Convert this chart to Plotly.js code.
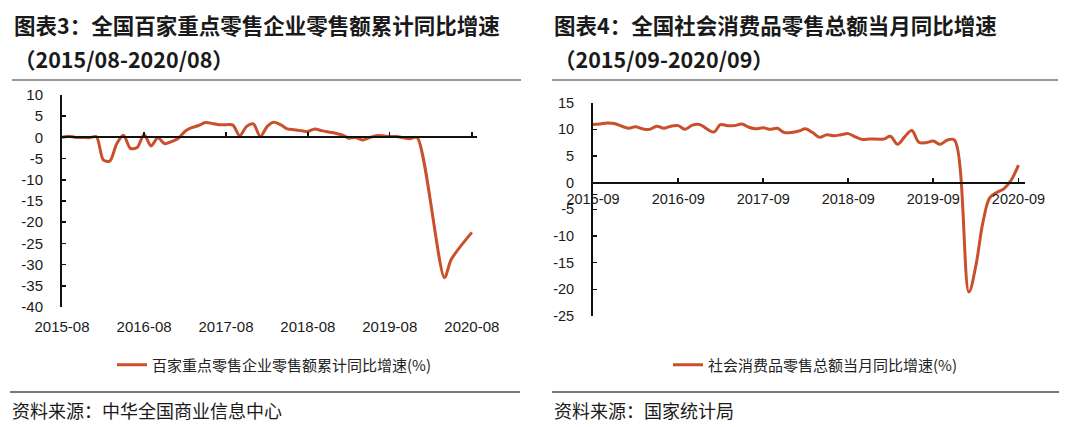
<!DOCTYPE html>
<html>
<head>
<meta charset="utf-8">
<script src="https://cdn.plot.ly/plotly-3.0.1.min.js"></script>
<style>
  html, body { margin: 0; padding: 0; background: #ffffff; }
  #chart { width: 1067px; height: 427px; }
</style>
</head>
<body>
<div id="chart"></div>
<script>
// ---------------- DATA ----------------
const leftTitle1 = '图表3：全国百家重点零售企业零售额累计同比增速';
const leftTitle2 = '（2015/08-2020/08）';
const rightTitle1 = '图表4：全国社会消费品零售总额当月同比增速';
const rightTitle2 = '（2015/09-2020/09）';
const leftSeriesName = '百家重点零售企业零售额累计同比增速(%)';
const rightSeriesName = '社会消费品零售总额当月同比增速(%)';
const leftSource = '资料来源：中华全国商业信息中心';
const rightSource = '资料来源：国家统计局';

// months 2015-08 .. 2020-08
const leftMonths = [
  '2015-08','2015-09','2015-10','2015-11','2015-12',
  '2016-01','2016-02','2016-03','2016-04','2016-05','2016-06','2016-07','2016-08','2016-09','2016-10','2016-11','2016-12',
  '2017-01','2017-02','2017-03','2017-04','2017-05','2017-06','2017-07','2017-08','2017-09','2017-10','2017-11','2017-12',
  '2018-01','2018-02','2018-03','2018-04','2018-05','2018-06','2018-07','2018-08','2018-09','2018-10','2018-11','2018-12',
  '2019-01','2019-02','2019-03','2019-04','2019-05','2019-06','2019-07','2019-08','2019-09','2019-10','2019-11','2019-12',
  '2020-01','2020-02','2020-03','2020-04','2020-05','2020-06','2020-07','2020-08'
];
const leftValues = [
  0.0, 0.3, 0.0, 0.0, -0.1,
  0.2, -5.3, -5.6, -1.5, 0.5, -2.6, -2.4, 0.7, -2.0, -0.1, -1.5, -1.0,
  -0.2, 1.5, 2.3, 2.8, 3.5, 3.3, 3.0, 3.0, 2.9, 0.4, 2.6, 3.2,
  0.2, 2.6, 3.6, 3.0, 2.0, 1.8, 1.6, 1.4, 2.0, 1.6, 1.25, 1.0,
  0.6, -0.2, 0.0, -0.6, -0.1, 0.4, 0.4, 0.2, 0.2, -0.1, -0.3, 0.0,
  null, null, null, -33.1, -28.8, null, null, -22.4
];
const leftTickLabels = ['2015-08','2016-08','2017-08','2018-08','2019-08','2020-08'];
const leftYTicks = [10, 5, 0, -5, -10, -15, -20, -25, -30, -35, -40];

// months 2015-09 .. 2020-09
const rightMonths = [
  '2015-09','2015-10','2015-11','2015-12',
  '2016-01','2016-02','2016-03','2016-04','2016-05','2016-06','2016-07','2016-08','2016-09','2016-10','2016-11','2016-12',
  '2017-01','2017-02','2017-03','2017-04','2017-05','2017-06','2017-07','2017-08','2017-09','2017-10','2017-11','2017-12',
  '2018-01','2018-02','2018-03','2018-04','2018-05','2018-06','2018-07','2018-08','2018-09','2018-10','2018-11','2018-12',
  '2019-01','2019-02','2019-03','2019-04','2019-05','2019-06','2019-07','2019-08','2019-09','2019-10','2019-11','2019-12',
  '2020-01','2020-02','2020-03','2020-04','2020-05','2020-06','2020-07','2020-08','2020-09'
];
const rightValues = [
  10.9, 11.0, 11.2, 11.1,
  null, 10.2, 10.5, 10.1, 10.0, 10.6, 10.2, 10.6, 10.7, 10.0, 10.8, 10.9,
  null, 9.5, 10.9, 10.7, 10.7, 11.0, 10.4, 10.1, 10.3, 10.0, 10.2, 9.4,
  null, 9.7, 10.1, 9.4, 8.5, 9.0, 8.8, 9.0, 9.2, 8.6, 8.1, 8.2,
  null, 8.2, 8.7, 7.2, 8.6, 9.8, 7.6, 7.5, 7.8, 7.2, 8.0, 8.0,
  null, -20.5, -15.8, -7.5, -2.8, -1.8, -1.1, 0.5, 3.3
];
const rightTickLabels = ['2015-09','2016-09','2017-09','2018-09','2019-09','2020-09'];
const rightYTicks = [15, 10, 5, 0, -5, -10, -15, -20, -25];

// ---------------- LAYOUT HELPERS ----------------
const W = 1067, H = 427;
const px = v => v / W;
const py = v => 1 - v / H;

const lineColor = '#C9502B';
const cjk = '"Noto Sans CJK SC", "Noto Sans", sans-serif';
const latin = '"Liberation Sans", Arial, sans-serif';

// plot areas (pixels)
const L = { x0: 62, x1: 477, yTop: 95, yBot: 307, ymin: -40, ymax: 10 };
const R = { x0: 593, x1: 1025, yTop: 102.7, yBot: 316, ymin: -25, ymax: 15 };
const zeroPos = P => py(P.yBot) + (0 - P.ymin) / (P.ymax - P.ymin) * (py(P.yTop) - py(P.yBot));

const traces = [
  {
    x: leftMonths, y: leftValues, type: 'scatter', mode: 'lines',
    name: leftSeriesName, connectgaps: true,
    line: { color: lineColor, width: 3, shape: 'spline', smoothing: 0.8 },
    xaxis: 'x', yaxis: 'y', legend: 'legend', hoverinfo: 'x+y'
  },
  {
    x: rightMonths, y: rightValues, type: 'scatter', mode: 'lines',
    name: rightSeriesName, connectgaps: true,
    line: { color: lineColor, width: 3, shape: 'spline', smoothing: 1 },
    xaxis: 'x2', yaxis: 'y2', legend: 'legend2', hoverinfo: 'x+y'
  }
];

const commonY = {
  showgrid: false, zeroline: false, showline: true, linecolor: '#111', linewidth: 2,
  ticks: 'inside', ticklen: 4, tickwidth: 1.5, tickcolor: '#111',
  tickmode: 'array', ticklabelstandoff: 14, fixedrange: true
};

const layout = {
  width: W, height: H,
  margin: { l: 0, r: 0, t: 0, b: 0 },
  paper_bgcolor: '#ffffff', plot_bgcolor: 'rgba(0,0,0,0)',
  showlegend: true,
  xaxis: {
    type: 'date', domain: [px(L.x0), px(L.x1)],
    range: ['2015-08-01', '2020-08-24'],
    anchor: 'free', position: zeroPos(L),
    showgrid: false, zeroline: false, showline: true, linecolor: '#111', linewidth: 2,
    ticks: 'inside', ticklen: 4, tickwidth: 1.5, tickcolor: '#111',
    tickmode: 'array', tickvals: leftTickLabels, ticktext: leftTickLabels,
    ticklabelstandoff: 176,
    tickfont: { family: latin, size: 15, color: '#1a1a1a' }, fixedrange: true
  },
  yaxis: Object.assign({}, commonY, {
    domain: [py(L.yBot), py(L.yTop)], range: [L.ymin, L.ymax], anchor: 'x',
    tickvals: leftYTicks, ticktext: leftYTicks.map(String),
    tickfont: { family: latin, size: 15, color: '#1a1a1a' }
  }),
  xaxis2: {
    type: 'date', domain: [px(R.x0), px(R.x1)],
    range: ['2015-09-01', '2020-09-29'],
    anchor: 'free', position: zeroPos(R),
    showgrid: false, zeroline: false, showline: true, linecolor: '#111', linewidth: 2,
    ticks: 'inside', ticklen: 4, tickwidth: 1.5, tickcolor: '#111',
    tickmode: 'array', tickvals: rightTickLabels, ticktext: rightTickLabels,
    ticklabelstandoff: 3,
    tickfont: { family: latin, size: 14.5, color: '#1a1a1a' }, fixedrange: true
  },
  yaxis2: Object.assign({}, commonY, {
    domain: [py(R.yBot), py(R.yTop)], range: [R.ymin, R.ymax], anchor: 'x2',
    tickvals: rightYTicks, ticktext: rightYTicks.map(String),
    tickfont: { family: latin, size: 14.5, color: '#1a1a1a' }
  }),
  legend: {
    x: px(112), y: py(365), xanchor: 'left', yanchor: 'middle',
    orientation: 'h', bgcolor: 'rgba(0,0,0,0)',
    font: { family: cjk, size: 15, color: '#222' }
  },
  legend2: {
    x: px(668), y: py(365), xanchor: 'left', yanchor: 'middle',
    orientation: 'h', bgcolor: 'rgba(0,0,0,0)',
    font: { family: cjk, size: 15, color: '#222' }
  },
  shapes: [
    { type: 'line', xref: 'paper', yref: 'paper', x0: px(12), x1: px(521), y0: py(80), y1: py(80), line: { color: '#333', width: 1.2 } },
    { type: 'line', xref: 'paper', yref: 'paper', x0: px(552), x1: px(1058), y0: py(80), y1: py(80), line: { color: '#333', width: 1.2 } },
    { type: 'line', xref: 'paper', yref: 'paper', x0: px(10), x1: px(520), y0: py(392), y1: py(392), line: { color: '#7a7a7a', width: 2 } },
    { type: 'line', xref: 'paper', yref: 'paper', x0: px(552), x1: px(1059), y0: py(392), y1: py(392), line: { color: '#7a7a7a', width: 2 } }
  ],
  annotations: [
    { text: leftTitle1, xref: 'paper', yref: 'paper', x: px(12), y: py(25), xanchor: 'left', yanchor: 'middle', showarrow: false,
      font: { family: cjk, size: 21.5, color: '#1a1a1a', weight: 'bold' } },
    { text: leftTitle2, xref: 'paper', yref: 'paper', x: px(12), y: py(59), xanchor: 'left', yanchor: 'middle', showarrow: false,
      font: { family: cjk, size: 21.5, color: '#1a1a1a', weight: 'bold' } },
    { text: rightTitle1, xref: 'paper', yref: 'paper', x: px(552), y: py(25), xanchor: 'left', yanchor: 'middle', showarrow: false,
      font: { family: cjk, size: 21.5, color: '#1a1a1a', weight: 'bold' } },
    { text: rightTitle2, xref: 'paper', yref: 'paper', x: px(552), y: py(59), xanchor: 'left', yanchor: 'middle', showarrow: false,
      font: { family: cjk, size: 21.5, color: '#1a1a1a', weight: 'bold' } },
    { text: leftSource, xref: 'paper', yref: 'paper', x: px(10), y: py(410), xanchor: 'left', yanchor: 'middle', showarrow: false,
      font: { family: cjk, size: 18, color: '#1a1a1a' } },
    { text: rightSource, xref: 'paper', yref: 'paper', x: px(552), y: py(410), xanchor: 'left', yanchor: 'middle', showarrow: false,
      font: { family: cjk, size: 18, color: '#1a1a1a' } }
  ]
};

Plotly.newPlot('chart', traces, layout, { staticPlot: true, displayModeBar: false });
</script>
</body>
</html>
